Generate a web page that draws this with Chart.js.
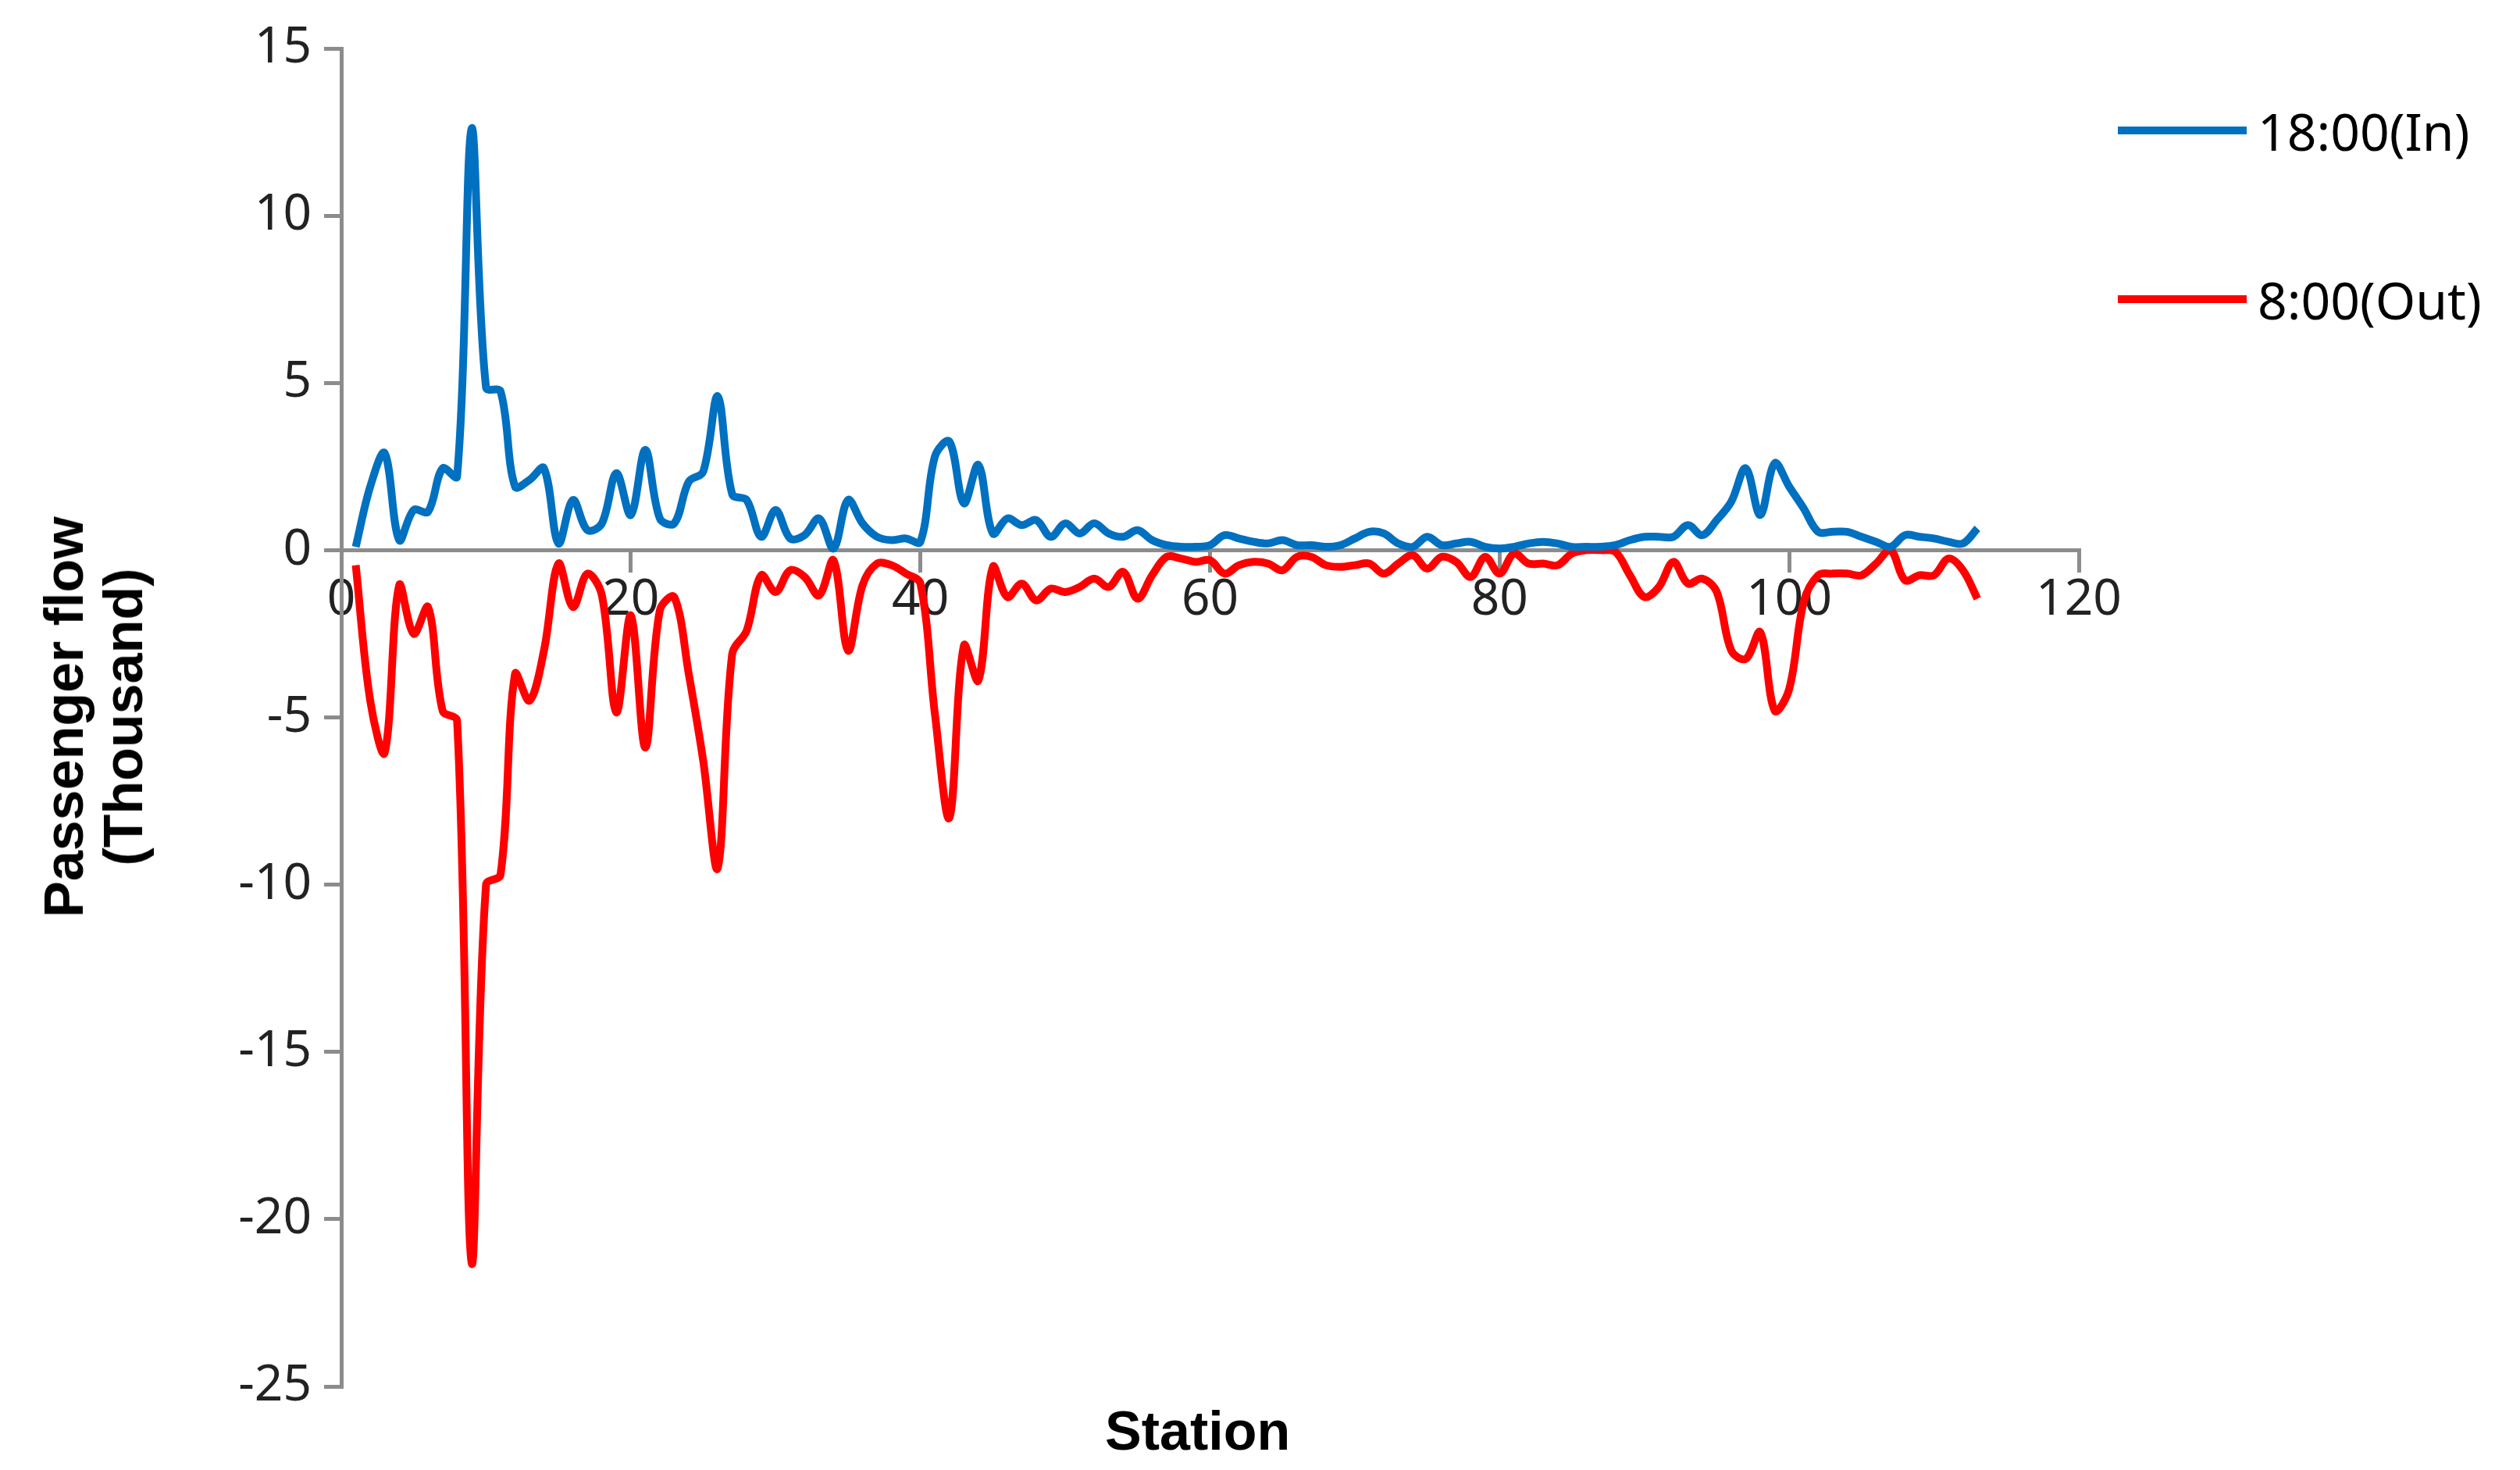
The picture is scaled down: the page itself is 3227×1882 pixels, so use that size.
<!DOCTYPE html>
<html>
<head>
<meta charset="utf-8">
<script src="https://cdn.jsdelivr.net/npm/chart.js@4.4.1/dist/chart.umd.min.js"></script>
<style>
  html, body { margin: 0; padding: 0; background: #fff; }
  #wrap { position: relative; width: 3227px; height: 1882px; }
  .ttl { position: absolute; font-family: "Liberation Sans", Arial, sans-serif; font-weight: bold; color: #000; font-size: 70px; }
  .leg { position: absolute; font-family: "Noto Sans", sans-serif; font-size: 66px; color: #000; display: flex; align-items: center; }
  .leg span.ln { display: inline-block; width: 165px; height: 10px; margin-right: 14px; }
</style>
</head>
<body>
<div id="wrap">
  <canvas id="chart" width="3227" height="1882"></canvas>
  <div class="ttl" style="left:0; top:0; width:0; height:0;">
    <div style="position:absolute; left:120px; top:918px; transform: translate(-50%,-50%) rotate(-90deg); white-space:nowrap; text-align:center; line-height:76px;">Passenger flow<br>(Thousand)</div>
  </div>
  <div class="ttl" style="left:1415px; top:1792px;">Station</div>
  <div class="leg" style="left:2712px; top:122px;"><span class="ln" style="background:#0070C0"></span>18:00(In)</div>
  <div class="leg" style="left:2712px; top:338px;"><span class="ln" style="background:#FF0000"></span>8:00(Out)</div>
</div>
<script>
// stations 1..113
const stations = Array.from({ length: 113 }, (_, i) => i + 1);

// 18:00 inbound passenger flow (thousand)
const flowIn = [
  0.1, 1.9, 2.9, 0.3, 1.2, 1.15, 2.45, 2.2, 12.6, 4.86,
  4.75, 1.9, 2.1, 2.45, 0.2, 1.5, 0.6, 0.8, 2.3, 1.05,
  3.0, 0.95, 0.8, 2.05, 2.35, 4.6, 1.67, 1.5, 0.4, 1.2,
  0.35, 0.45, 0.95, 0.05, 1.5, 0.8, 0.4, 0.3, 0.35, 0.25,
  2.8, 3.25, 1.4, 2.55, 0.5, 0.95, 0.75, 0.9, 0.4, 0.8,
  0.5, 0.8, 0.5, 0.4, 0.6, 0.3, 0.15, 0.1, 0.1, 0.15,
  0.45, 0.35, 0.25, 0.2, 0.3, 0.15, 0.15, 0.1, 0.15, 0.35,
  0.55, 0.5, 0.2, 0.1, 0.4, 0.15, 0.2, 0.25, 0.1, 0.05,
  0.1, 0.2, 0.25, 0.2, 0.1, 0.1, 0.1, 0.15, 0.3, 0.4,
  0.4, 0.4, 0.75, 0.45, 0.9, 1.45, 2.45, 1.05, 2.6, 1.9,
  1.25, 0.55, 0.55, 0.55, 0.4, 0.25, 0.1, 0.45, 0.4, 0.35,
  0.25, 0.2, 0.65
];

// 8:00 outbound passenger flow (thousand, negative)
const flowOut = [
  -0.45, -4.5, -6.05, -1.05, -2.5, -1.7, -4.8, -5.1, -21.3, -10.0,
  -9.7, -3.7, -4.5, -3.0, -0.4, -1.7, -0.7, -1.35, -4.85, -1.95,
  -5.9, -1.8, -1.4, -3.7, -6.3, -9.5, -3.1, -2.4, -0.75, -1.25,
  -0.6, -0.8, -1.35, -0.3, -3.0, -1.05, -0.4, -0.45, -0.7, -1.0,
  -4.9, -8.0, -2.85, -3.9, -0.5, -1.4, -1.0, -1.5, -1.15, -1.25,
  -1.1, -0.85, -1.1, -0.65, -1.45, -0.75, -0.2, -0.25, -0.35, -0.3,
  -0.7, -0.45, -0.35, -0.4, -0.6, -0.2, -0.2, -0.45, -0.5, -0.45,
  -0.4, -0.7, -0.4, -0.15, -0.55, -0.2, -0.35, -0.8, -0.2, -0.7,
  -0.1, -0.4, -0.4, -0.45, -0.1, 0, 0, -0.05, -0.75, -1.4,
  -1.1, -0.35, -1.0, -0.85, -1.25, -3.0, -3.25, -2.45, -4.8, -4.15,
  -1.55, -0.75, -0.7, -0.7, -0.75, -0.4, 0, -0.9, -0.75, -0.75,
  -0.25, -0.6, -1.45
];

const xTicks = [0, 20, 40, 60, 80, 100, 120];
const yTicks = [15, 10, 5, 0, -5, -10, -15, -20, -25];

const PAD_LEFT = 150;
const AXIS_LEFT = 437;

new Chart(document.getElementById('chart').getContext('2d'), {
  type: 'line',
  data: {
    datasets: [
      { label: '18:00(In)', data: stations.map((s, i) => ({ x: s, y: flowIn[i] })),
        borderColor: '#0070C0', borderWidth: 10, pointRadius: 0, tension: 0.35, fill: false },
      { label: '8:00(Out)', data: stations.map((s, i) => ({ x: s, y: flowOut[i] })),
        borderColor: '#FF0000', borderWidth: 10, pointRadius: 0, tension: 0.35, fill: false }
    ]
  },
  options: {
    responsive: false,
    animation: false,
    devicePixelRatio: 1,
    layout: { padding: { left: PAD_LEFT, right: 565, top: 62, bottom: 107 } },
    plugins: { legend: { display: false }, tooltip: { enabled: false } },
    scales: {
      x: {
        type: 'linear', position: { y: 0 }, min: 0, max: 120,
        afterBuildTicks: s => { s.ticks = xTicks.map(v => ({ value: v })); },
        border: { color: '#8c8c8c', width: 5 },
        grid: { drawOnChartArea: false, color: '#8c8c8c', lineWidth: 5, tickLength: 26 },
        ticks: { font: { family: 'Noto Sans', size: 64 }, color: '#222', padding: 0 }
      },
      y: {
        min: -25, max: 15,
        afterBuildTicks: s => { s.ticks = yTicks.map(v => ({ value: v })); },
        afterFit: s => { s.width = AXIS_LEFT - PAD_LEFT; },
        border: { color: '#8c8c8c', width: 5 },
        grid: { drawOnChartArea: false, color: '#8c8c8c', lineWidth: 5, tickLength: 22 },
        ticks: { font: { family: 'Noto Sans', size: 64 }, color: '#222', padding: 16 }
      }
    }
  }
});
</script>
</body>
</html>
